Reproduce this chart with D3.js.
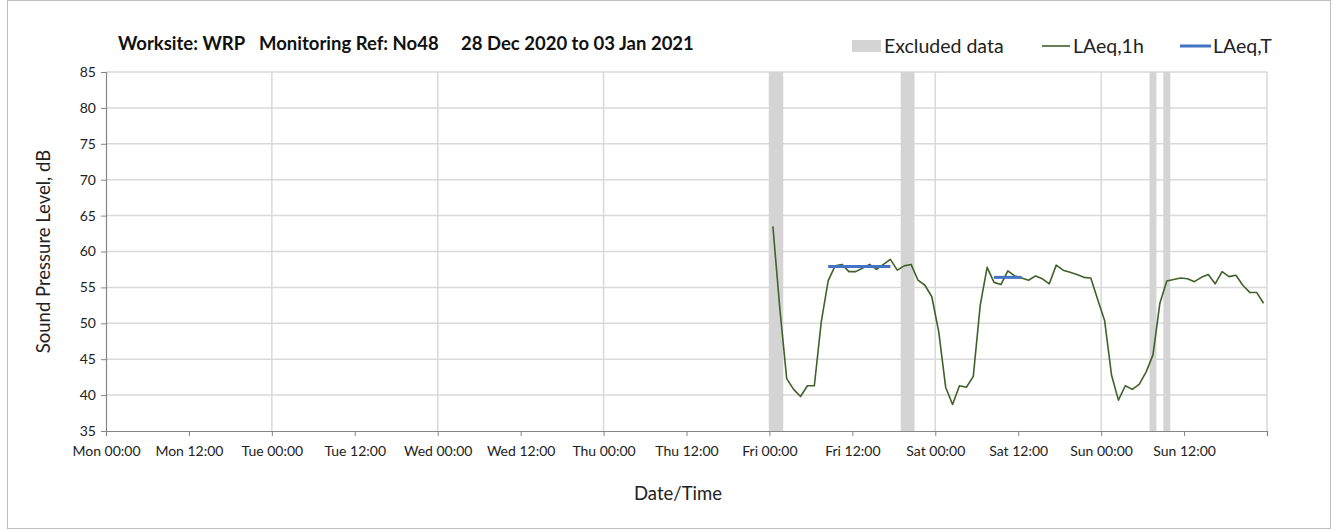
<!DOCTYPE html>
<html>
  <head>
    <title>noise-monitoring</title>
    <style>
      html,
      body {
        padding: 0;
        margin: 0;
        background: #fff;
        font-family: Lato, 'Open Sans', sans-serif;
      }
      svg {
        display: block;
      }
    </style>
  </head>
  <body>
    <svg width="1338" height="530"></svg>

    <script src="https://cdn.jsdelivr.net/npm/d3@7"></script>
    <script>
      // hourly LAeq,1h values, first one at Fri 01 Jan 2021 00:30
      const levelStart = '2021-01-01 00:30';
      const laeq1h = [
        63.5, 52.1, 42.3, 40.8, 39.8, 41.3, 41.3, 50.2, 55.9, 58.0, 58.2, 57.2,
        57.2, 57.7, 58.2, 57.5, 58.2, 58.9, 57.4, 58.0, 58.2, 56.0, 55.3, 53.7,
        48.8, 41.1, 38.7, 41.3, 41.1, 42.6, 52.5, 57.8, 55.7, 55.4, 57.3, 56.6,
        56.3, 56.0, 56.6, 56.2, 55.5, 58.1, 57.4, 57.1, 56.8, 56.4, 56.3, 53.3,
        50.4, 42.8, 39.3, 41.3, 40.8, 41.5, 43.2, 45.6, 52.8, 55.9, 56.1, 56.3,
        56.2, 55.8, 56.4, 56.8, 55.5, 57.2, 56.5, 56.7, 55.3, 54.3, 54.3, 52.8,
      ];

      // LAeq,T periods
      const laeqTFrom = ['2021-01-01 08:30', '2021-01-02 08:30'];
      const laeqTTo = ['2021-01-01 17:30', '2021-01-02 12:30'];
      const laeqTValue = [57.9, 56.4];

      // excluded data periods
      const excludedFrom = ['2021-01-01 00:00', '2021-01-01 19:00', '2021-01-03 07:00', '2021-01-03 09:00'];
      const excludedTo = ['2021-01-01 02:00', '2021-01-01 21:00', '2021-01-03 08:00', '2021-01-03 10:00'];

      const weekFrom = '2020-12-28 00:00';
      const weekTo = '2021-01-04 00:00';
      const yTicks = [35, 40, 45, 50, 55, 60, 65, 70, 75, 80, 85];
    </script>
    <script>
      const parse = d3.timeParse('%Y-%m-%d %H:%M');
      const svg = d3.select('svg');
      const plotLeft = 106; // 绘图区左
      const plotRight = 1267; // 绘图区右
      const plotTop = 72;
      const plotBottom = 431;

      const x = d3.scaleTime().domain([parse(weekFrom), parse(weekTo)]).range([plotLeft, plotRight]);
      const y = d3.scaleLinear().domain([35, 85]).range([plotBottom, plotTop]);

      // outer frame
      svg
        .append('rect')
        .attr('x', 7.5)
        .attr('y', 0.5)
        .attr('width', 1323)
        .attr('height', 528)
        .attr('fill', 'none')
        .attr('stroke', '#bfbfbf');

      // horizontal grid
      svg
        .append('g')
        .selectAll('line')
        .data(yTicks.slice(1))
        .join('line')
        .attr('x1', plotLeft)
        .attr('x2', plotRight)
        .attr('y1', (d) => y(d))
        .attr('y2', (d) => y(d))
        .attr('stroke', '#d9d9d9')
        .attr('stroke-width', 1.5);

      // vertical grid at each midnight
      svg
        .append('g')
        .selectAll('line')
        .data(d3.timeDay.range(parse(weekFrom), parse(weekTo)).slice(1).concat([parse(weekTo)]))
        .join('line')
        .attr('x1', (d) => x(d))
        .attr('x2', (d) => x(d))
        .attr('y1', plotTop)
        .attr('y2', plotBottom)
        .attr('stroke', '#d9d9d9')
        .attr('stroke-width', 1.5);

      // excluded bands
      svg
        .append('g')
        .selectAll('rect')
        .data(excludedFrom.map((f, i) => [parse(f), parse(excludedTo[i])]))
        .join('rect')
        .attr('x', (d) => x(d[0]))
        .attr('width', (d) => x(d[1]) - x(d[0]))
        .attr('y', plotTop)
        .attr('height', plotBottom - plotTop)
        .attr('fill', '#d4d4d4');

      // axes
      const xAxis = d3
        .axisBottom(x)
        .ticks(d3.timeHour.every(12))
        .tickSize(5)
        .tickFormat((d) => (+d === +parse(weekTo) ? '' : d3.timeFormat('%a %H:%M')(d)));

      const gx = svg
        .append('g')
        .attr('transform', `translate(0,${plotBottom})`)
        .call(xAxis);
      gx.select('.domain').attr('stroke', '#868686').attr('stroke-width', 1.2);
      gx.selectAll('.tick line').attr('stroke', '#868686');
      gx.selectAll('.tick text')
        .attr('dy', '1.2em')
        .attr('fill', '#222')
        .style('font-size', '14px')
        .style('font-family', 'Lato, sans-serif');

      const gy = svg
        .append('g')
        .attr('transform', `translate(${plotLeft},0)`)
        .call(d3.axisLeft(y).tickValues(yTicks).tickSize(5).tickPadding(5));
      gy.select('.domain').attr('stroke', '#868686').attr('stroke-width', 1.2);
      gy.selectAll('.tick line').attr('stroke', '#868686');
      gy.selectAll('.tick text')
        .attr('fill', '#222')
        .style('font-size', '14px')
        .style('font-family', 'Lato, sans-serif');

      // LAeq,1h line
      const t0 = parse(levelStart);
      const points = laeq1h.map((v, i) => ({ t: d3.timeHour.offset(t0, i), v }));
      svg
        .append('path')
        .datum(points)
        .attr('fill', 'none')
        .attr('stroke', '#3f6229')
        .attr('stroke-width', 1.6)
        .attr('stroke-linejoin', 'round')
        .attr(
          'd',
          d3
            .line()
            .x((d) => x(d.t))
            .y((d) => y(d.v))
        );

      // LAeq,T segments
      svg
        .append('g')
        .selectAll('line')
        .data(laeqTValue.map((v, i) => ({ a: parse(laeqTFrom[i]), b: parse(laeqTTo[i]), v })))
        .join('line')
        .attr('x1', (d) => x(d.a))
        .attr('x2', (d) => x(d.b))
        .attr('y1', (d) => y(d.v))
        .attr('y2', (d) => y(d.v))
        .attr('stroke', '#4472c4')
        .attr('stroke-width', 3);

      // title
      const title = svg
        .append('text')
        .attr('y', 50)
        .attr('fill', '#111')
        .style('font-size', '18.5px')
        .style('font-weight', 'bold');
      title.append('tspan').attr('x', 118).text('Worksite: WRP');
      title.append('tspan').attr('x', 259).text('Monitoring Ref: No48');
      title.append('tspan').attr('x', 461).text('28 Dec 2020 to 03 Jan 2021');

      // legend
      const legend = svg.append('g').style('font-size', '19.5px').attr('fill', '#222');
      legend.append('rect').attr('x', 852).attr('y', 40).attr('width', 29).attr('height', 12).attr('fill', '#d4d4d4');
      legend.append('text').attr('x', 884).attr('y', 53).text('Excluded data');
      legend.append('line').attr('x1', 1042).attr('x2', 1070).attr('y1', 46).attr('y2', 46).attr('stroke', '#3f6229').attr('stroke-width', 1.6);
      legend.append('text').attr('x', 1073).attr('y', 53).text('LAeq,1h');
      legend.append('line').attr('x1', 1180).attr('x2', 1211).attr('y1', 46).attr('y2', 46).attr('stroke', '#4472c4').attr('stroke-width', 3);
      legend.append('text').attr('x', 1213).attr('y', 53).text('LAeq,T');

      // axis titles
      svg
        .append('text')
        .attr('transform', `translate(50,${(plotTop + plotBottom) / 2}) rotate(-90)`)
        .attr('text-anchor', 'middle')
        .attr('fill', '#222')
        .style('font-size', '18.5px')
        .text('Sound Pressure Level, dB');

      svg
        .append('text')
        .attr('x', 678)
        .attr('y', 500)
        .attr('text-anchor', 'middle')
        .attr('fill', '#222')
        .style('font-size', '18.5px')
        .text('Date/Time');
    </script>
  </body>
</html>
